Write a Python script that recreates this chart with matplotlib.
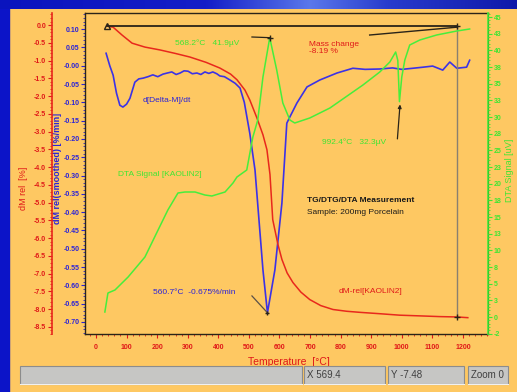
import matplotlib
matplotlib.use('Agg')
import matplotlib.pyplot as plt
from matplotlib.patches import Rectangle
from matplotlib.ticker import MultipleLocator, FormatStrFormatter, FuncFormatter
import numpy as np

# TG curve: relative mass change (%) vs temperature
tg_temp = [36, 56, 85, 118, 160, 209, 260, 307, 360, 405, 440, 461, 487, 503, 526, 546, 559,
           569, 578, 595, 608, 625, 644, 670, 699, 735, 775, 820, 863, 930, 993, 1060, 1124, 1180, 1216]
tg_mass = [-0.03, -0.06, -0.28, -0.51, -0.62, -0.70, -0.80, -0.90, -1.05, -1.21, -1.38, -1.54, -1.83,
           -2.11, -2.61, -3.09, -3.51, -4.21, -5.48, -6.18, -6.60, -6.98, -7.25, -7.52, -7.73, -7.90,
           -8.01, -8.06, -8.09, -8.13, -8.17, -8.19, -8.21, -8.22, -8.24]

# DTG curve: smoothed derivative (%/min)
dtg_temp = [33, 45, 56, 67, 78, 88, 100, 111, 127, 140, 154, 170, 186, 202, 219, 233, 248, 262,
            275, 288, 301, 315, 330, 343, 356, 369, 382, 395, 405, 420, 438, 455, 471, 485, 503,
            520, 546, 560.7, 585, 608, 624, 634, 657, 690, 732, 788, 840, 880, 928, 970, 1000,
            1036, 1070, 1101, 1134, 1157, 1180, 1212, 1222]
dtg_val = [0.034, 0.000, -0.026, -0.075, -0.108, -0.113, -0.105, -0.089, -0.045, -0.036, -0.034,
           -0.030, -0.025, -0.030, -0.023, -0.020, -0.017, -0.024, -0.020, -0.014, -0.015, -0.022,
           -0.020, -0.024, -0.017, -0.021, -0.017, -0.022, -0.028, -0.030, -0.039, -0.048, -0.061,
           -0.100, -0.185, -0.285, -0.558, -0.675, -0.558, -0.375, -0.157, -0.140, -0.102, -0.058,
           -0.039, -0.020, -0.007, -0.010, -0.009, -0.006, -0.010, -0.007, -0.004, -0.001, -0.012,
           0.010, -0.007, -0.004, 0.015]

# DTA signal (uV)
dta_temp = [29, 39, 62, 105, 160, 203, 235, 268, 291, 324, 356, 379, 422, 448, 461, 493, 513, 529,
            546, 568.2, 591, 611, 634, 650, 699, 765, 873, 928, 961, 980, 987, 992.4, 1000, 1010,
            1026, 1059, 1114, 1180, 1222]
dta_uv = [0.75, 3.6, 4.05, 6.0, 9.0, 13.05, 16.05, 18.6, 18.75, 18.75, 18.3, 18.15, 18.75, 20.1,
          21.0, 22.05, 27.0, 29.55, 36.0, 41.9, 37.05, 32.1, 29.55, 29.1, 29.85, 31.35, 34.8, 36.75,
          38.25, 39.75, 38.5, 32.3, 36.0, 38.55, 40.8, 41.55, 42.3, 42.9, 43.2]

# mass change evaluation window
mc_start, mc_end = 36, 1180
mc_start_val = -0.03
mass_change = -8.19

ORANGE = '#fec862'
BLUE_BG = '#0c14c8'
RED = '#e8281c'
RED_TXT = '#e01818'
BLUE = '#3c32e6'
BLUE_TXT = '#2a22d8'
GREEN = '#46ee3c'
GREEN_TXT = '#3ee632'
DARK = '#2a2418'

plt.rcParams['font.family'] = ['Liberation Sans', 'DejaVu Sans']

W, H = 517, 392


def fx(px):
    return px / W


def fy(py):
    return 1 - py / H


fig = plt.figure(figsize=(W / 100, H / 100), dpi=100)
fig.patch.set_facecolor(ORANGE)

# blue window border: left strip and top band with a light streak
fig.add_artist(Rectangle((0, 0), fx(9), 1, transform=fig.transFigure, color=BLUE_BG, zorder=0))
band = fig.add_axes([0, fy(9), 1, 9 / H])
pos = np.linspace(0, 1, 300)
r = np.interp(pos, [0, 0.4, 0.6, 0.75, 1], [10, 20, 90, 40, 15])
g = np.interp(pos, [0, 0.4, 0.6, 0.75, 1], [20, 30, 120, 60, 25])
b = np.interp(pos, [0, 0.4, 0.6, 0.75, 1], [190, 200, 235, 205, 170])
grad = np.stack([r, g, b], axis=-1)[None, :, :] / 255
band.imshow(grad, aspect='auto', extent=[0, 1, 0, 1])
band.axis('off')

ax = fig.add_axes([fx(85), fy(334), fx(488) - fx(85), fy(13) - fy(334)])
ax.set_facecolor(ORANGE)
ax_red = ax.twinx()
ax_grn = ax.twinx()

# DTG (blue) on the frame's left side
ax.plot(dtg_temp, dtg_val, color=BLUE, lw=1.2, zorder=5)
ax.set_xlim(-36, 1282)
ax.set_ylim(-0.733, 0.144)
ax.yaxis.set_major_locator(MultipleLocator(0.05))
ax.yaxis.set_minor_locator(MultipleLocator(0.01))
ax.yaxis.set_major_formatter(FormatStrFormatter('%.2f'))
ax.xaxis.set_major_locator(MultipleLocator(100))
ax.xaxis.set_minor_locator(MultipleLocator(20))
ax.xaxis.set_major_formatter(FuncFormatter(lambda v, p: '%d' % v if 0 <= v <= 1200 else ''))
ax.tick_params(axis='y', which='major', colors=BLUE_TXT, labelsize=5, length=3, width=0.8, pad=1)
ax.tick_params(axis='y', which='minor', colors=BLUE_TXT, length=1.5, width=0.6)
ax.tick_params(axis='x', which='major', colors=RED_TXT, labelsize=5, length=3, width=0.8, pad=4)
ax.tick_params(axis='x', which='minor', colors=RED_TXT, length=1.5, width=0.6)
for lab in ax.get_xticklabels() + ax.get_yticklabels():
    lab.set_fontweight('bold')
for s in ['top', 'bottom', 'left']:
    ax.spines[s].set_color(DARK)
    ax.spines[s].set_linewidth(1.0)
ax.set_ylabel('dM rel(smoothed) [%/min]', color=BLUE_TXT, fontsize=6.5, fontweight='bold')
ax.yaxis.set_label_coords(-0.056, 0.517)
ax.set_xlabel('Temperature  [\u00b0C]', color=RED_TXT, fontsize=7.5)
ax.xaxis.set_label_coords(0.506, -0.072)

# TG (red) on an outer left axis
ax_red.plot(tg_temp, tg_mass, color=RED, lw=1.1, zorder=4)
ax_red.set_ylim(-8.7, 0.34)
ax_red.yaxis.tick_left()
ax_red.yaxis.set_label_position('left')
ax_red.spines['left'].set_position(('outward', 24))
ax_red.spines['left'].set_visible(True)
ax_red.spines['left'].set_color(RED)
ax_red.spines['left'].set_linewidth(1.2)
for s in ['right', 'top', 'bottom']:
    ax_red.spines[s].set_visible(False)
ax_red.yaxis.set_major_locator(MultipleLocator(0.5))
ax_red.yaxis.set_minor_locator(MultipleLocator(0.1))
ax_red.yaxis.set_major_formatter(FormatStrFormatter('%.1f'))
ax_red.tick_params(axis='y', which='major', colors=RED_TXT, labelsize=5, length=3, width=0.8, pad=1)
ax_red.tick_params(axis='y', which='minor', colors=RED_TXT, length=1.5, width=0.6)
for lab in ax_red.get_yticklabels():
    lab.set_fontweight('bold')
ax_red.set_ylabel('dM rel  [%]', color=RED_TXT, fontsize=6.5)
ax_red.yaxis.set_label_coords(-0.142, 0.455)

# DTA (green) on the right
ax_grn.plot(dta_temp, dta_uv, color=GREEN, lw=1.1, zorder=3)
ax_grn.set_ylim(-2.55, 45.6)
ax_grn.spines['right'].set_color(GREEN)
ax_grn.spines['right'].set_linewidth(1.2)
for s in ['left', 'top', 'bottom']:
    ax_grn.spines[s].set_visible(False)
ax_grn.yaxis.set_major_locator(MultipleLocator(2.5))
ax_grn.yaxis.set_minor_locator(MultipleLocator(0.5))
ax_grn.yaxis.set_major_formatter(FuncFormatter(lambda v, p: '%d' % int(np.floor(v + 0.5))))
ax_grn.tick_params(axis='y', which='major', colors=GREEN_TXT, labelsize=5, length=3, width=0.8, pad=1)
ax_grn.tick_params(axis='y', which='minor', colors=GREEN_TXT, length=1.5, width=0.6)
for lab in ax_grn.get_yticklabels():
    lab.set_fontweight('bold')
ax_grn.set_ylabel('DTA Signal [uV]', color=GREEN_TXT, fontsize=6.5, rotation=90)
ax_grn.yaxis.set_label_coords(1.042, 0.511)

# mass change step
mc_end_val = mc_start_val + mass_change
ax_red.plot([mc_start, mc_end], [mc_start_val, mc_start_val], color=DARK, lw=1.3, zorder=6)
ax_red.plot([mc_end, mc_end], [mc_start_val, mc_end_val], color='#8a8070', lw=1.0, zorder=6)
ax_red.plot([mc_start], [mc_start_val], marker='^', ms=4, mfc='none', mec=DARK, zorder=7)
ax_red.plot([mc_end, mc_end], [mc_start_val, mc_end_val], ls='none', marker='+', ms=4,
            color=DARK, zorder=7)
ax_red.plot([895, mc_end], [-0.28, -0.06], color=DARK, lw=1.0, zorder=6)
ax_red.text(696, -0.65, 'Mass change\n%.2f %%' % mass_change, color=RED_TXT, fontsize=6,
            va='center', ha='left', linespacing=1.0)

# DTA peak and dip
ax_grn.plot([510, 568.2], [42.0, 41.9], color=DARK, lw=0.9, zorder=6)
ax_grn.plot([568.2], [41.9], marker='+', ms=4, color=DARK, zorder=7)
ax_grn.text(258, 41.1, '568.2\u00b0C   41.9\u00b5V', color=GREEN_TXT, fontsize=6, va='center',
            ha='left')
ax_grn.annotate('', xy=(995, 32.3), xytext=(985, 26.3),
                arrowprops=dict(arrowstyle='-|>', color=DARK, lw=0.9, mutation_scale=5))
ax_grn.text(739, 26.25, '992.4\u00b0C   32.3\u00b5V', color=GREEN_TXT, fontsize=6, va='center',
            ha='left')
ax_grn.text(72, 21.45, 'DTA Signal [KAOLIN2]', color=GREEN_TXT, fontsize=6, va='center', ha='left')

# DTG minimum
ax.plot([510, 560.7], [-0.629, -0.675], color='#5a5048', lw=0.9, zorder=6)
ax.plot([560.7], [-0.675], marker='+', ms=3, color=DARK, zorder=7)
ax.text(186, -0.619, '560.7\u00b0C  -0.675%/min', color=BLUE_TXT, fontsize=6, va='center', ha='left')
ax.text(154, -0.094, 'd[Delta-M]/dt', color=BLUE_TXT, fontsize=6, va='center', ha='left')

ax_red.text(793, -7.50, 'dM-rel[KAOLIN2]', color=RED_TXT, fontsize=6, va='center', ha='left')

ax.text(0.551, 0.417, 'TG/DTG/DTA Measurement', transform=ax.transAxes, fontsize=6,
        fontweight='bold', color='#1a1a1a', va='center')
ax.text(0.551, 0.380, 'Sample: 200mg Porcelain', transform=ax.transAxes, fontsize=6,
        color='#1a1a1a', va='center')

# status bar
boxes = [(20, 302, ''), (304, 385, 'X 569.4'), (388, 464, 'Y -7.48'), (468, 508, 'Zoom 0')]
for x0, x1, txt in boxes:
    fig.add_artist(Rectangle((fx(x0), fy(384)), fx(x1) - fx(x0), 18 / H, transform=fig.transFigure,
                             facecolor='#c6c6c4', edgecolor='#8c8c8c', lw=0.8))
    fig.add_artist(plt.Line2D([fx(x0), fx(x1)], [fy(384), fy(384)], transform=fig.transFigure,
                              color='#f0f0f0', lw=0.8))
    if txt:
        fig.text(fx(x0 + 3), fy(375), txt, fontsize=7, color='#404040', va='center', ha='left')

fig.savefig('out.png', dpi=100, facecolor=fig.get_facecolor())
